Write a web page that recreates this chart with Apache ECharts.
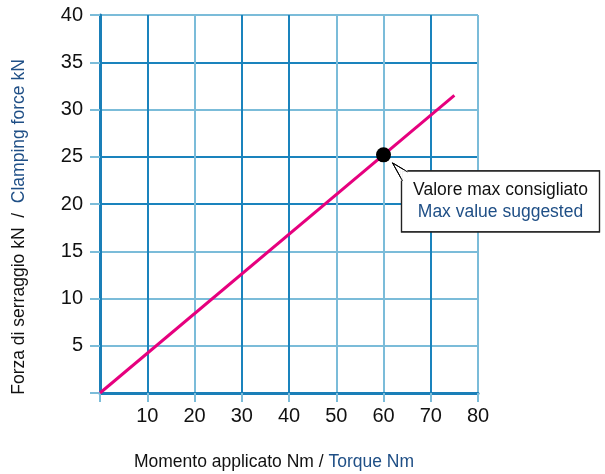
<!DOCTYPE html>
<html><head><meta charset="utf-8">
<script src="https://cdn.jsdelivr.net/npm/echarts@6/dist/echarts.min.js"></script>
<style>html,body{margin:0;padding:0;background:#fff}#c{width:605px;height:474px}</style>
</head><body><div id="c"></div>
<script>
const torqueNm = [0, 75];
const clampingKN = [0, 31.5];
const maxPoint = [60, 25.2];
const xTicks = [0, 10, 20, 30, 40, 50, 60, 70, 80];
const yTicks = [0, 5, 10, 15, 20, 25, 30, 35, 40];
const calloutLine1 = 'Valore max consigliato';
const calloutLine2 = 'Max value suggested';

const FONT = '"Liberation Sans Narrow", "Liberation Sans", Arial, sans-serif';
const DARK = '#1a83bd', LIGHT = '#7bbcd9', NAVY = '#1f4f86';
const chart = echarts.init(document.getElementById('c'));
chart.setOption({
  animation: false,
  grid: {left: 100, right: 127, top: 15, bottom: 81, containLabel: false, outerBoundsMode: 'none'},
  xAxis: {
    type: 'value', min: 0, max: 80, interval: 10,
    axisLine: {show: true, lineStyle: {color: '#1a7fb8', width: 3}},
    axisTick: {show: true, length: 9, lineStyle: {color: LIGHT, width: 2}},
    axisLabel: {fontFamily: FONT, fontSize: 20, color: '#111', margin: 13,
      formatter: v => v === 0 ? '' : String(v)},
    splitLine: {show: true, lineStyle: {width: 2, color: [DARK, DARK, LIGHT, DARK, DARK, LIGHT, LIGHT, DARK, LIGHT]}},
    name: '{a|Momento applicato Nm / }{b|Torque Nm}',
    nameLocation: 'middle', nameGap: 60,
    nameTextStyle: {padding: [0, 30, 0, 0], rich: {
      a: {fontFamily: FONT, fontSize: 17.5, color: '#111'},
      b: {fontFamily: FONT, fontSize: 17.5, color: NAVY}}}
  },
  yAxis: {
    type: 'value', min: 0, max: 40, interval: 5,
    axisLine: {show: true, lineStyle: {color: '#1a7fb8', width: 3}},
    axisTick: {show: true, length: 10, lineStyle: {color: LIGHT, width: 2}},
    axisLabel: {fontFamily: FONT, fontSize: 20, color: '#111', margin: 17,
      formatter: v => v === 0 ? '' : String(v)},
    splitLine: {show: true, lineStyle: {width: 2, color: [DARK, LIGHT, LIGHT, LIGHT, DARK, DARK, LIGHT, DARK, LIGHT]}},
    name: '{a|Forza di serraggio kN  /  }{b|Clamping force kN}',
    nameLocation: 'middle', nameGap: 72,
    nameTextStyle: {padding: [0, 46, 0, 0], rich: {
      a: {fontFamily: FONT, fontSize: 17.5, color: '#111'},
      b: {fontFamily: FONT, fontSize: 17.5, color: NAVY}}}
  },
  series: [
    {type: 'line', data: torqueNm.map((x, i) => [x, clampingKN[i]]), symbol: 'none',
     lineStyle: {color: '#e6007e', width: 3}, z: 3},
    {type: 'scatter', data: [maxPoint], symbolSize: 15, itemStyle: {color: '#000', opacity: 1}, z: 5}
  ]
});

const p = chart.convertToPixel({gridIndex: 0}, maxPoint);
const bx = p[0] + 18, by = p[1] + 16, bw = 198, bh = 61;
chart.setOption({graphic: [
  {type: 'polygon', z: 10, shape: {points: [[p[0] + 9, p[1] + 8], [bx + 6, by + 1], [bx + 1, by + 10]]},
   style: {fill: '#fff', stroke: '#000', lineWidth: 1}},
  {type: 'rect', z: 11, shape: {x: bx, y: by, width: bw, height: bh},
   style: {fill: '#fff', stroke: '#222', lineWidth: 1.2}},
  {type: 'polyline', z: 12, shape: {points: [[bx + 6, by], [bx, by], [bx, by + 10]]},
   style: {stroke: '#fff', lineWidth: 2}},
  {type: 'polyline', z: 13, shape: {points: [[p[0] + 9, p[1] + 8], [bx + 6, by + 1]]}, style: {stroke: '#000', lineWidth: 1}},
  {type: 'polyline', z: 13, shape: {points: [[p[0] + 9, p[1] + 8], [bx + 1, by + 10]]}, style: {stroke: '#000', lineWidth: 1}},
  {type: 'polyline', z: 13, shape: {points: [[bx + 6, by], [bx + bw, by], [bx + bw, by + bh], [bx, by + bh], [bx, by + 10]]}, style: {stroke: '#222', fill: null, lineWidth: 1.2}},
  {type: 'text', z: 14, x: bx + bw / 2, y: by + 19,
   style: {text: calloutLine1, fontFamily: FONT, fontSize: 17.5, fill: '#111', align: 'center', verticalAlign: 'middle'}},
  {type: 'text', z: 14, x: bx + bw / 2, y: by + 41,
   style: {text: calloutLine2, fontFamily: FONT, fontSize: 17.5, fill: NAVY, align: 'center', verticalAlign: 'middle'}}
]});
</script></body></html>
